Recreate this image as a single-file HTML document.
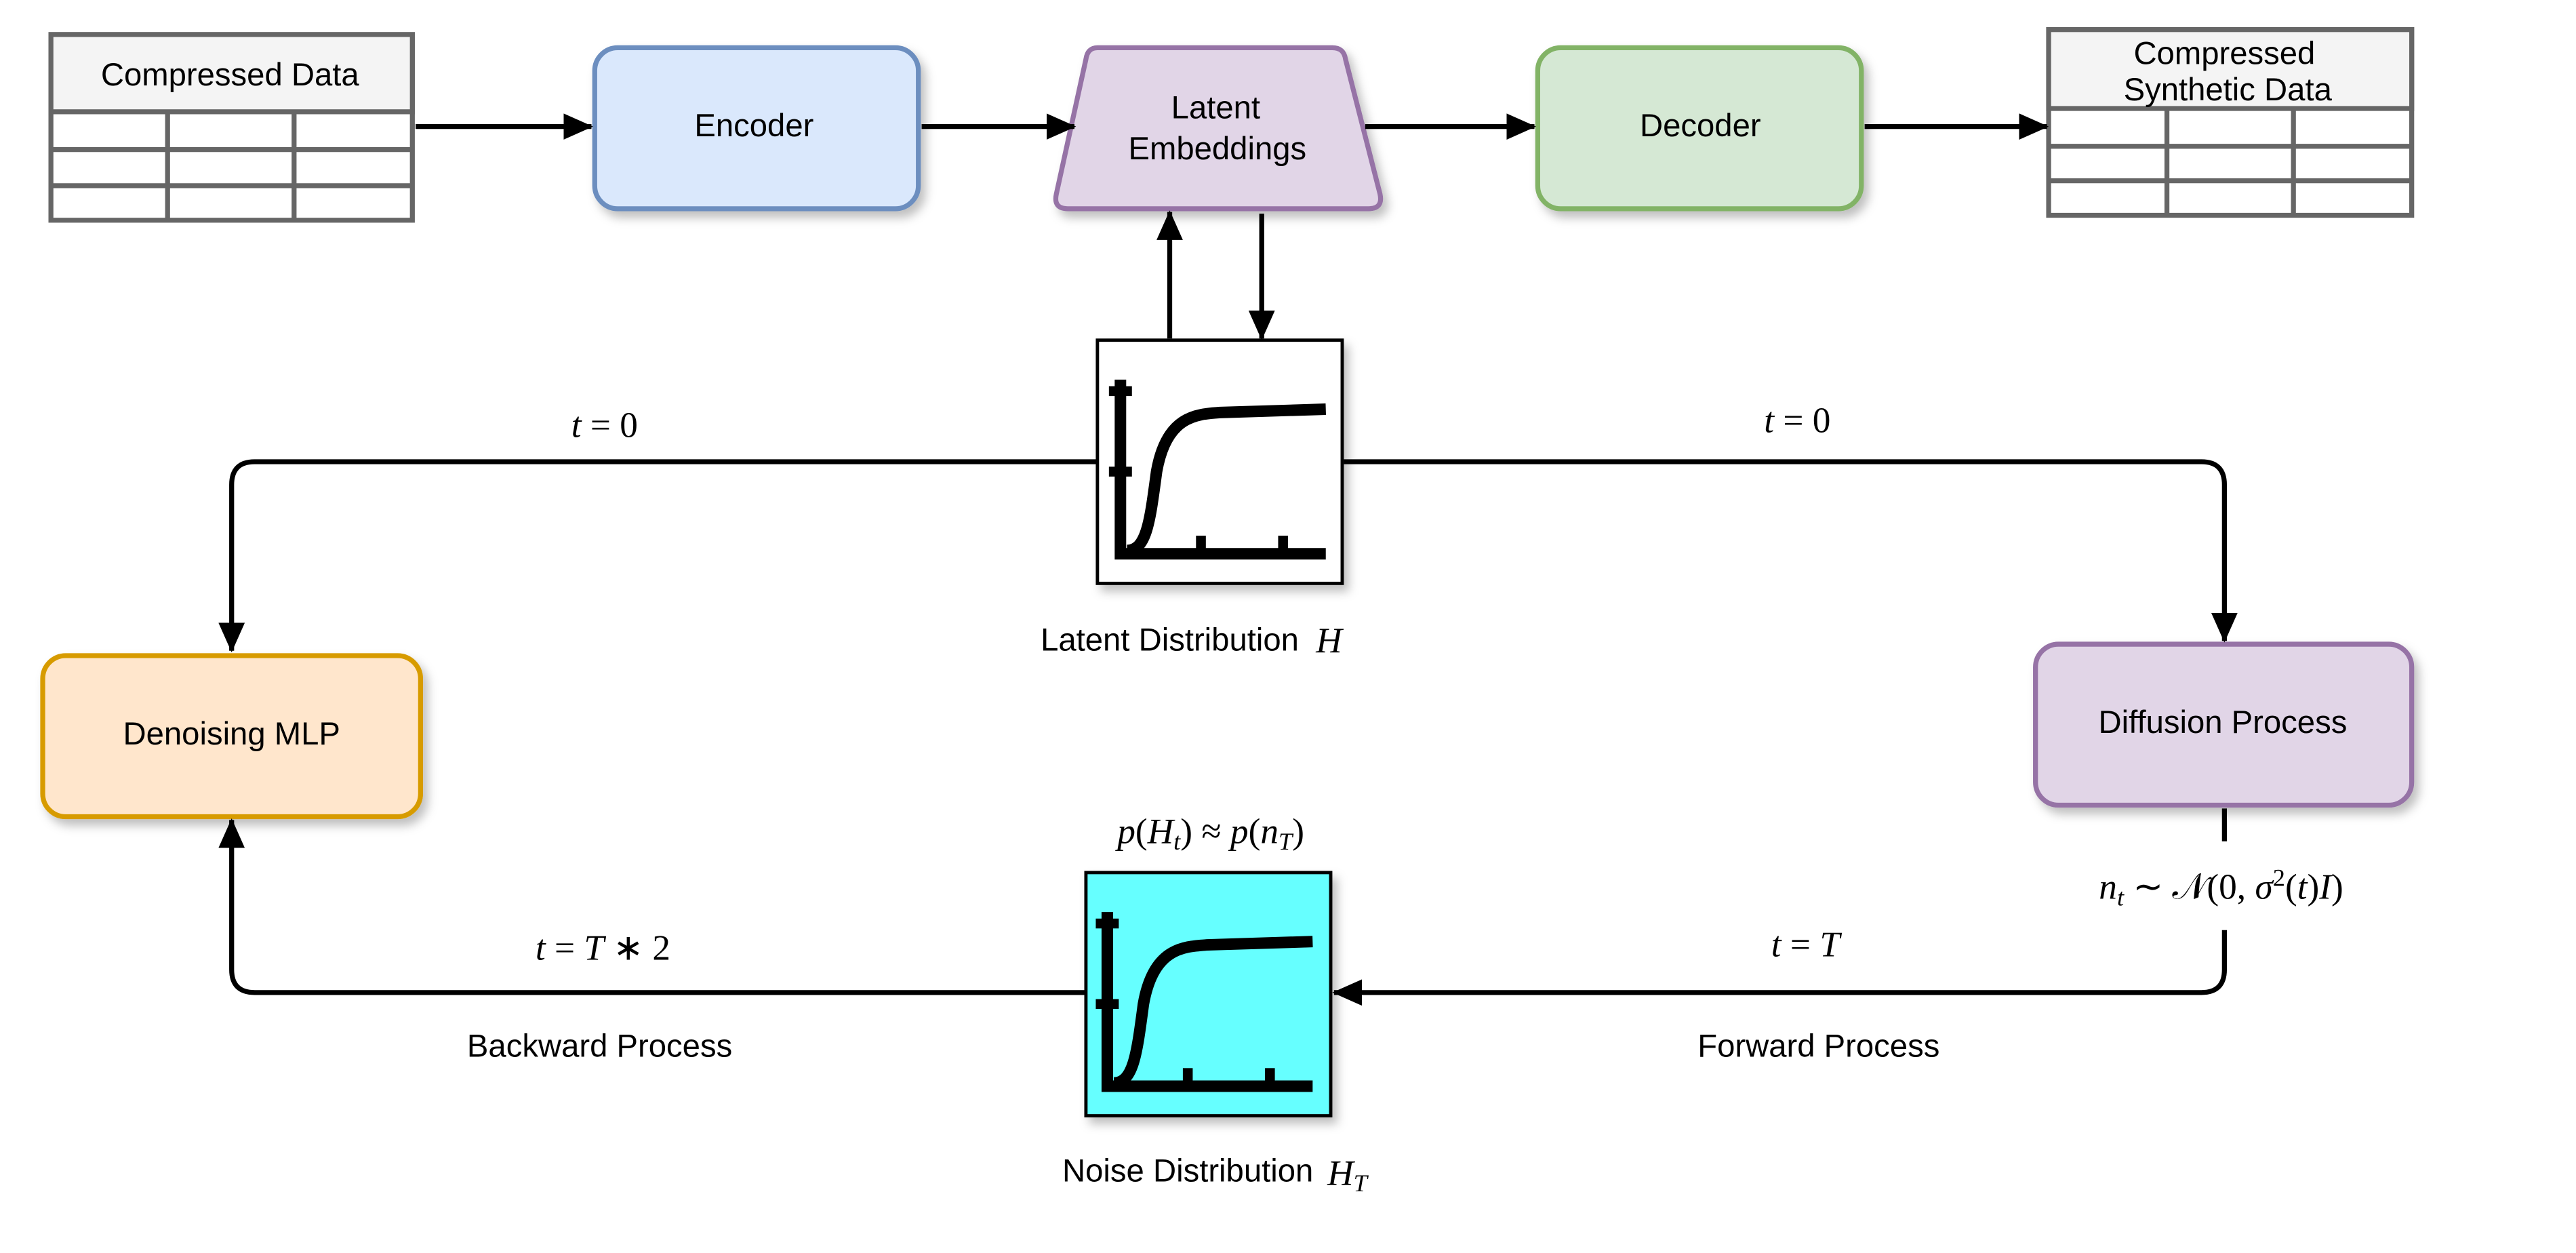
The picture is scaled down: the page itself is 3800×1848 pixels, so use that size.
<!DOCTYPE html>
<html><head><meta charset="utf-8"><style>
html,body{margin:0;padding:0;background:#fff;}
svg{display:block;}
text{font-family:"Liberation Sans",sans-serif;font-size:19.5px;fill:#000;}
.m{font-family:"Liberation Serif",serif;font-size:22px;}
.mi{font-family:"Liberation Serif",serif;font-style:italic;font-size:22px;}
</style></head><body>
<svg width="3800" height="1848" viewBox="0 0 1568 762.5" xmlns="http://www.w3.org/2000/svg">
<defs>
<marker id="b" markerWidth="18" markerHeight="16" refX="17" refY="8" orient="auto" markerUnits="userSpaceOnUse"><path d="M0,0 L18,8 L0,16 Z" fill="#000"/></marker>
<filter id="s" x="-10%" y="-10%" width="130%" height="130%"><feDropShadow dx="3" dy="4" stdDeviation="3" flood-color="#000" flood-opacity="0.25"/></filter>
<g id="chart">
<path d="M14,24 V130 H139" stroke="#000" stroke-width="7" fill="none"/>
<rect x="7" y="28" width="14" height="6" fill="#000"/>
<rect x="7" y="77" width="14" height="6" fill="#000"/>
<rect x="60" y="119" width="6" height="10" fill="#000"/>
<rect x="110" y="119" width="6" height="10" fill="#000"/>
<path d="M18,128 C30,128 32,110 36,80 C42,46 60,45 75,44 L139,42" stroke="#000" stroke-width="7" fill="none"/>
</g>
</defs>

<g>
<rect x="31" y="21" width="220" height="113" fill="#fff" stroke="#666" stroke-width="3"/>
<rect x="31" y="21" width="220" height="47" fill="#f4f4f4" stroke="#666" stroke-width="3"/>
<path d="M31,91 H251 M31,113 H251 M102,68 V134 M179,68 V134" stroke="#666" stroke-width="3"/>
<text x="140" y="52" text-anchor="middle">Compressed Data</text>
</g>
<g>
<rect x="1247" y="18" width="221" height="113" fill="#fff" stroke="#666" stroke-width="3"/>
<rect x="1247" y="18" width="221" height="48" fill="#f4f4f4" stroke="#666" stroke-width="3"/>
<path d="M1247,89 H1468 M1247,110 H1468 M1319,66 V131 M1396,66 V131" stroke="#666" stroke-width="3"/>
<text x="1354" y="39" text-anchor="middle">Compressed</text>
<text x="1356" y="61" text-anchor="middle">Synthetic Data</text>
</g>

<rect x="362" y="29" width="197" height="98" rx="14" fill="#dae8fc" stroke="#6c8ebf" stroke-width="3" filter="url(#s)"/>
<text x="459" y="83" text-anchor="middle">Encoder</text>

<path d="M668,29 H811 Q818,29 819,36 L840,118 Q842,127 833,127 H650 Q641,127 643,118 L661,36 Q662,29 668,29 Z" fill="#e1d5e7" stroke="#9673a6" stroke-width="3" filter="url(#s)"/>
<text x="740" y="72" text-anchor="middle">Latent</text>
<text x="741" y="97" text-anchor="middle">Embeddings</text>

<rect x="936" y="29" width="197" height="98" rx="14" fill="#d5e8d4" stroke="#82b366" stroke-width="3" filter="url(#s)"/>
<text x="1035" y="83" text-anchor="middle">Decoder</text>

<rect x="26" y="399" width="230" height="98" rx="14" fill="#ffe6cc" stroke="#d79b00" stroke-width="3" filter="url(#s)"/>
<text x="141" y="453" text-anchor="middle">Denoising MLP</text>

<rect x="1239" y="392" width="229" height="98" rx="14" fill="#e1d5e7" stroke="#9673a6" stroke-width="3" filter="url(#s)"/>
<text x="1353" y="446" text-anchor="middle">Diffusion Process</text>

<g stroke="#000" stroke-width="3" fill="none">
<path d="M253,77 H360" marker-end="url(#b)"/>
<path d="M561,77 H654" marker-end="url(#b)"/>
<path d="M831,77 H934" marker-end="url(#b)"/>
<path d="M1135,77 H1246" marker-end="url(#b)"/>
<path d="M712,206 V129" marker-end="url(#b)"/>
<path d="M768,130 V206" marker-end="url(#b)"/>
<path d="M668,281 H155 Q141,281 141,295 V396" marker-end="url(#b)"/>
<path d="M818,281 H1340 Q1354,281 1354,295 V390" marker-end="url(#b)"/>
<path d="M1354,492 V512"/>
<path d="M1354,566 V590 Q1354,604 1340,604 H812" marker-end="url(#b)"/>
<path d="M661,604 H155 Q141,604 141,590 V499" marker-end="url(#b)"/>
</g>

<rect x="668" y="207" width="149" height="148" fill="#fff" stroke="#000" stroke-width="2" filter="url(#s)"/>
<use href="#chart" x="668" y="207"/>
<text x="712" y="396" text-anchor="middle">Latent Distribution</text>
<text x="801" y="397" class="mi">H</text>

<rect x="661" y="531" width="149" height="148" fill="#66ffff" stroke="#000" stroke-width="2" filter="url(#s)"/>
<use href="#chart" x="660" y="531"/>
<text x="723" y="719" text-anchor="middle">Noise Distribution</text>
<text x="808" y="721" class="mi">H<tspan font-size="15" dy="4">T</tspan></text>

<text x="368" y="266" text-anchor="middle" class="m"><tspan font-style="italic">t</tspan> = 0</text>
<text x="1094" y="263" text-anchor="middle" class="m"><tspan font-style="italic">t</tspan> = 0</text>
<text x="367" y="584" text-anchor="middle" class="m"><tspan font-style="italic">t</tspan> = <tspan font-style="italic">T</tspan> ∗ 2</text>
<text x="1099" y="582" text-anchor="middle" class="m"><tspan font-style="italic">t</tspan> = <tspan font-style="italic">T</tspan></text>
<text x="737" y="513" text-anchor="middle" class="m"><tspan font-style="italic">p</tspan>(<tspan font-style="italic">H</tspan><tspan font-size="15" dy="4" font-style="italic">t</tspan><tspan dy="-4">) ≈ </tspan><tspan font-style="italic">p</tspan>(<tspan font-style="italic">n</tspan><tspan font-size="15" dy="4" font-style="italic">T</tspan><tspan dy="-4">)</tspan></text>
<text x="1352" y="547" text-anchor="middle" class="m"><tspan font-style="italic">n</tspan><tspan font-size="15" dy="4" font-style="italic">t</tspan><tspan dy="-4"> ∼ 𝒩(0, </tspan><tspan font-style="italic">σ</tspan><tspan font-size="15" dy="-8">2</tspan><tspan dy="8">(</tspan><tspan font-style="italic">t</tspan>)<tspan font-style="italic">I</tspan>)</text>
<text x="365" y="643" text-anchor="middle">Backward Process</text>
<text x="1107" y="643" text-anchor="middle">Forward Process</text>
</svg>
</body></html>
